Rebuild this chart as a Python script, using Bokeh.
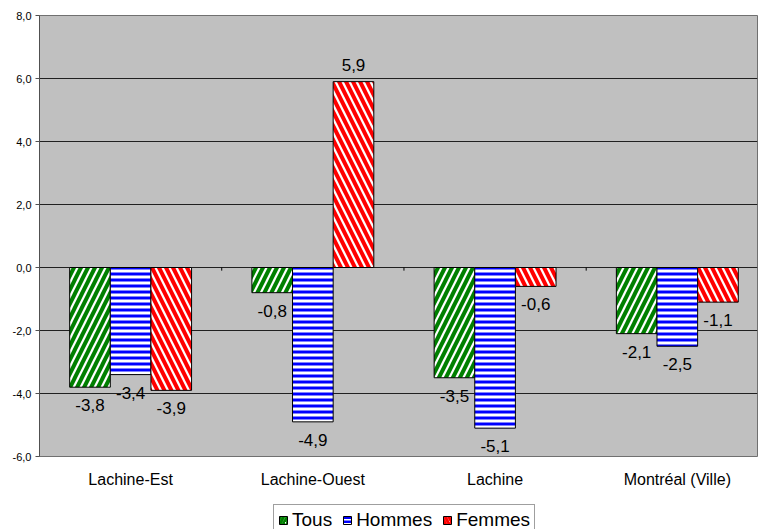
from bokeh.plotting import figure
from bokeh.layouts import column
from bokeh.models import Range1d, FixedTicker, Legend, LegendItem, ColumnDataSource
from bokeh.embed import file_html
from bokeh.resources import INLINE
from bokeh.core.properties import value

categories = ["Lachine-Est", "Lachine-Ouest", "Lachine", "Montréal (Ville)"]
series_names = ["Tous", "Hommes", "Femmes"]
tous = [-3.8, -0.8, -3.5, -2.1]
hommes = [-3.4, -4.9, -5.1, -2.5]
femmes = [-3.9, 5.9, -0.6, -1.1]
y_ticks = [-6, -4, -2, 0, 2, 4, 6, 8]
y_tick_labels = ["-6,0", "-4,0", "-2,0", "0,0", "2,0", "4,0", "6,0", "8,0"]

series_values = [tous, hommes, femmes]
colors = ["#008000", "#0000FF", "#FF0000"]
hatches = ["/", "-", "\\"]
hatch_scales = [14, 6, 14]
hatch_weights = [4, 3, 4]
bar_w = 0.223
offsets = [-bar_w, 0.0, bar_w]
FONT = "Liberation Sans"

n = len(categories)
p = figure(width=758, height=503,
           x_range=Range1d(0, 3.94), y_range=Range1d(-6, 8),
           output_backend="svg", toolbar_location=None,
           min_border_left=39, min_border_right=1, min_border_top=15, min_border_bottom=47,
           background_fill_color="#C0C0C0", border_fill_color="white",
           outline_line_color="#707070", outline_line_width=1)

for name, vals, col, hatch, hs, hw, off in zip(series_names, series_values, colors, hatches,
                                                hatch_scales, hatch_weights, offsets):
    xs = [i + 0.5 + off for i in range(n)]
    src = ColumnDataSource(dict(
        x=xs, top=vals,
        label=[f"{v:.1f}".replace(".", ",") for v in vals],
        base=["top" if v < 0 else "alphabetic" for v in vals],
        yoff=[12 if v < 0 else -17 for v in vals],
    ))
    p.vbar(x="x", top="top", bottom=0, width=bar_w, source=src,
           fill_color="white", line_color="black", line_width=1,
           hatch_pattern=hatch, hatch_color=col, hatch_weight=hw, hatch_scale=hs)
    p.text(x="x", y="top", text="label", source=src, text_align="center",
           text_baseline="base", y_offset="yoff", text_font=value(FONT),
           text_font_size="17px", text_color="black")

# small category-boundary ticks on the zero line
p.segment(x0=list(range(1, n)), x1=list(range(1, n)), y0=[0] * (n - 1), y1=[-0.1] * (n - 1),
          line_color="black", line_width=1)

p.xgrid.visible = False
p.ygrid.ticker = FixedTicker(ticks=y_ticks)
p.ygrid.grid_line_color = "#202020"
p.ygrid.grid_line_width = 1

p.yaxis.ticker = FixedTicker(ticks=y_ticks)
p.yaxis.major_label_overrides = {t: l for t, l in zip(y_ticks, y_tick_labels)}
p.yaxis.major_label_text_font = FONT
p.yaxis.major_label_text_font_size = "11px"
p.yaxis.major_label_text_color = "black"
p.yaxis.axis_line_color = "#505050"
p.yaxis.major_tick_line_color = "#505050"
p.yaxis.major_tick_out = 4
p.yaxis.major_tick_in = 0
p.yaxis.minor_tick_line_color = None
p.yaxis.major_label_standoff = 4

p.xaxis.ticker = FixedTicker(ticks=[i + 0.5 for i in range(n)])
p.xaxis.major_label_overrides = {i + 0.5: c for i, c in enumerate(categories)}
p.xaxis.major_label_text_font = FONT
p.xaxis.major_label_text_font_size = "16px"
p.xaxis.major_label_text_color = "black"
p.xaxis.axis_line_color = None
p.xaxis.major_tick_line_color = None
p.xaxis.minor_tick_line_color = None
p.xaxis.major_tick_out = 0
p.xaxis.major_label_standoff = 14

# legend strip underneath the chart; the swatch renderers are hidden behind the legend box
lg = figure(width=758, height=26, x_range=Range1d(0, 1), y_range=Range1d(0, 1),
            output_backend="svg", toolbar_location=None, min_border=0,
            x_axis_type=None, y_axis_type=None, outline_line_color=None,
            background_fill_color="white", border_fill_color="white")
lg.grid.visible = False
swatches = []
for col, hatch in zip(colors, hatches):
    swatches.append(lg.vbar(x=[0.5], top=[0.6], bottom=0.4, width=0.005, fill_color="white",
                            line_color="black", line_width=1, hatch_pattern=hatch,
                            hatch_color=col, hatch_weight=3, hatch_scale=7 if hatch != "-" else 4))
legend = Legend(items=[LegendItem(label=nm, renderers=[r]) for nm, r in zip(series_names, swatches)],
                orientation="horizontal", location=(234, -7),
                label_text_font=FONT, label_text_font_size="19px", label_text_color="black",
                label_height=20, glyph_width=10, glyph_height=10, label_standoff=4, spacing=10,
                padding=4, margin=0, border_line_color="#404040",
                background_fill_color="white", background_fill_alpha=1)
lg.add_layout(legend, "center")

open("out.html", "w").write(file_html(column(p, lg, spacing=0), INLINE))
